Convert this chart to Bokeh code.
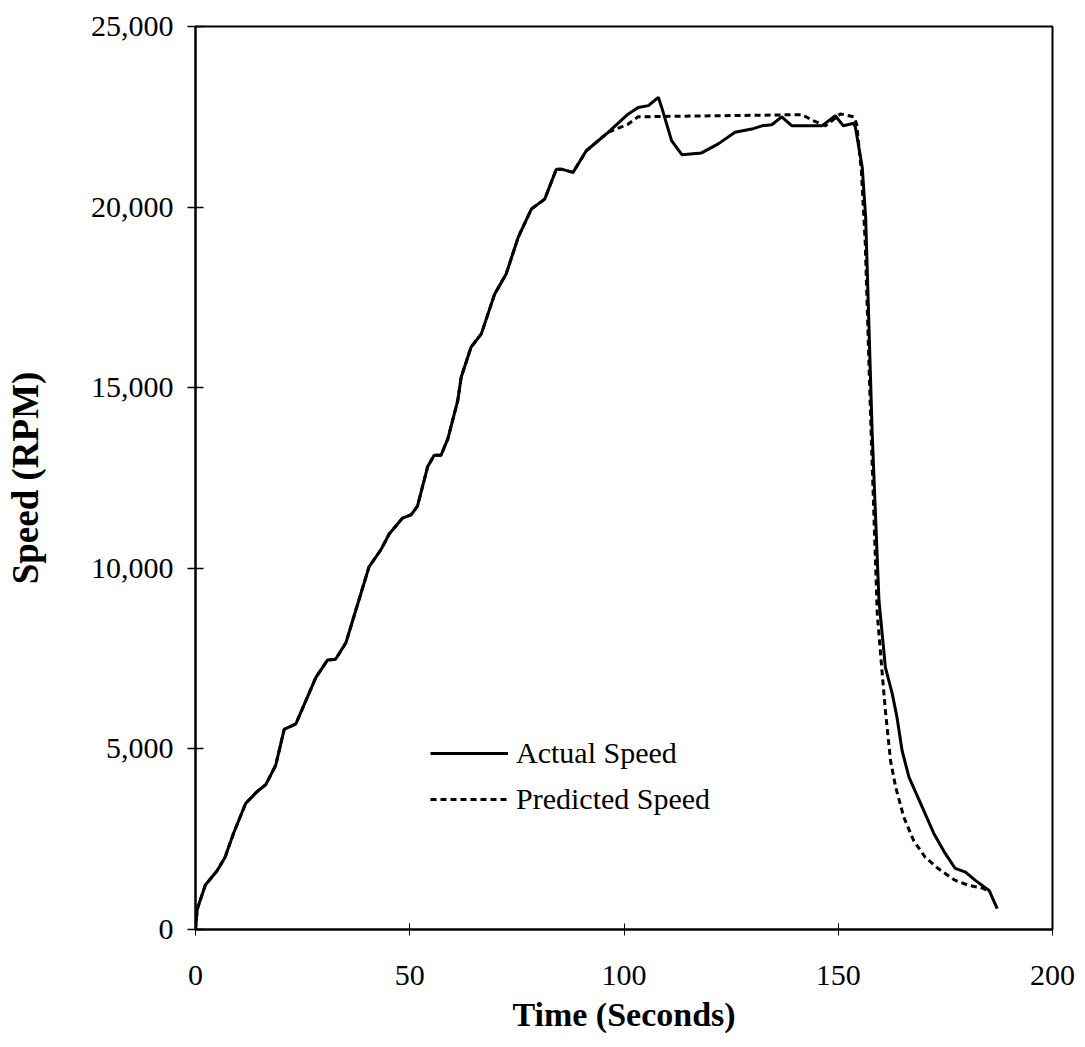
from bokeh.plotting import figure
from bokeh.models import Legend, LegendItem, NumeralTickFormatter, FixedTicker, Range1d
from bokeh.embed import file_html
from bokeh.resources import INLINE

# ---- data ----
time_actual = [0, 0.4, 2.3, 5.0, 6.9, 8.9, 11.7, 14.4, 16.4, 18.7,
               20.7, 23.4, 25.3, 28.1, 30.8, 32.7, 35.1, 37.8, 40.5, 43.3,
               45.2, 48.3, 50.3, 51.8, 54.2, 55.7, 57.3, 58.9, 61.2, 62.0,
               64.3, 66.7, 69.8, 72.5, 75.3, 78.4, 81.5, 84.2, 85.4, 88.1,
               91.2, 96.3, 101.0, 103.3, 105.7, 108.0, 108.8, 111.1, 113.5, 118.1,
               122.0, 125.9, 129.8, 132.2, 134.5, 136.8, 139.2, 146.2, 149.3, 151.2,
               153.6, 154.0, 155.6, 156.4, 157.9, 159.5, 161.0, 162.6, 163.7, 164.9,
               166.5, 169.6, 172.3, 175.0, 177.3, 179.7, 182.0, 185.2, 187.1]
speed_actual = [0, 560, 1230, 1620, 2000, 2670, 3490, 3820, 4010, 4540,
                5540, 5690, 6210, 6980, 7460, 7480, 7940, 8990, 10040, 10520,
                10950, 11390, 11480, 11720, 12820, 13130, 13130, 13590, 14640, 15290,
                16120, 16490, 17590, 18150, 19160, 19950, 20220, 21050, 21050, 20960,
                21560, 22070, 22580, 22760, 22810, 23040, 22760, 21840, 21450, 21500,
                21750, 22070, 22160, 22250, 22280, 22500, 22250, 22250, 22530, 22250,
                22320, 22210, 21100, 19710, 13800, 9110, 7260, 6530, 5880, 4950,
                4220, 3390, 2660, 2100, 1690, 1590, 1360, 1080, 580]

time_pred = [0, 0.4, 2.3, 5.0, 6.9, 8.9, 11.7, 14.4, 16.4, 18.7,
             20.7, 23.4, 25.3, 28.1, 30.8, 32.7, 35.1, 37.8, 40.5, 43.3,
             45.2, 48.3, 50.3, 51.8, 54.2, 55.7, 57.3, 58.9, 61.2, 62.0,
             64.3, 66.7, 69.8, 72.5, 75.3, 78.4, 81.5, 84.2, 85.4, 88.1,
             91.2, 96.3, 101.0, 103.3, 141.5, 144.0, 147.0, 150.5, 153.6, 154.3,
             155.4, 156.3, 157.6, 159.1, 160.2, 161.0, 162.2, 163.4, 165.3, 167.6,
             170.3, 173.4, 177.3, 180.5, 183.6, 185.6]
speed_pred = [0, 560, 1230, 1620, 2000, 2670, 3490, 3820, 4010, 4540,
              5540, 5690, 6210, 6980, 7460, 7480, 7940, 8990, 10040, 10520,
              10950, 11390, 11480, 11720, 12820, 13130, 13130, 13590, 14640, 15290,
              16120, 16490, 17590, 18150, 19160, 19950, 20220, 21050, 21050, 20960,
              21560, 22070, 22300, 22500, 22560, 22400, 22250, 22580, 22500, 22300,
              21000, 19000, 14000, 8750, 7170, 6060, 4680, 3940, 3110, 2460,
              2000, 1680, 1360, 1220, 1150, 1030]

x_ticks = [0, 50, 100, 150, 200]
y_ticks = [0, 5000, 10000, 15000, 20000, 25000]

series_labels = ["Actual Speed", "Predicted Speed"]
x_title = "Time (Seconds)"
y_title = "Speed (RPM)"

FONT = "Liberation Serif"

p = figure(frame_width=857, frame_height=903,
           x_range=Range1d(0, 200), y_range=Range1d(0, 25000),
           output_backend="svg", toolbar_location=None,
           min_border_left=195, min_border_right=25,
           min_border_top=26, min_border_bottom=110,
           background_fill_color="white", border_fill_color="white")

p.xgrid.visible = False
p.ygrid.visible = False
p.outline_line_color = "black"
p.outline_line_width = 2
p.outline_line_alpha = 1.0

r_act = p.line(time_actual, speed_actual, line_color="black", line_width=3)
r_pred = p.line(time_pred, speed_pred, line_color="black", line_width=3,
                line_dash="6 4")

# axes
xa = p.xaxis[0]
xa.ticker = FixedTicker(ticks=x_ticks)
xa.axis_line_width = 2
xa.axis_line_color = "black"
xa.major_tick_in = 6
xa.major_tick_out = 6
xa.major_tick_line_width = 1
xa.minor_tick_line_color = None
xa.major_label_text_font = FONT
xa.major_label_text_font_size = "30px"
xa.major_label_text_color = "black"
xa.major_label_standoff = 30
xa.axis_label = x_title
xa.axis_label_text_font = FONT
xa.axis_label_text_font_style = "bold"
xa.axis_label_text_font_size = "34px"
xa.axis_label_text_color = "black"
xa.axis_label_standoff = 8

ya = p.yaxis[0]
ya.ticker = FixedTicker(ticks=y_ticks)
ya.formatter = NumeralTickFormatter(format="0,0")
ya.axis_line_width = 2
ya.axis_line_color = "black"
ya.major_tick_in = 8
ya.major_tick_out = 8
ya.major_tick_line_width = 1.5
ya.minor_tick_line_color = None
ya.major_label_text_font = FONT
ya.major_label_text_font_size = "30px"
ya.major_label_text_color = "black"
ya.major_label_standoff = 14
ya.axis_label = y_title
ya.axis_label_text_font = FONT
ya.axis_label_text_font_style = "bold"
ya.axis_label_text_font_size = "37px"
ya.axis_label_text_color = "black"
ya.axis_label_standoff = 42

legend = Legend(items=[LegendItem(label=series_labels[0], renderers=[r_act]),
                       LegendItem(label=series_labels[1], renderers=[r_pred])],
                location=(235, 110),
                glyph_width=78, glyph_height=40, label_height=40,
                label_standoff=8, spacing=6, padding=0, margin=0,
                border_line_color=None, background_fill_alpha=0,
                label_text_font=FONT, label_text_font_size="30px",
                label_text_color="black")
p.add_layout(legend)

open("out.html", "w").write(file_html(p, INLINE))
